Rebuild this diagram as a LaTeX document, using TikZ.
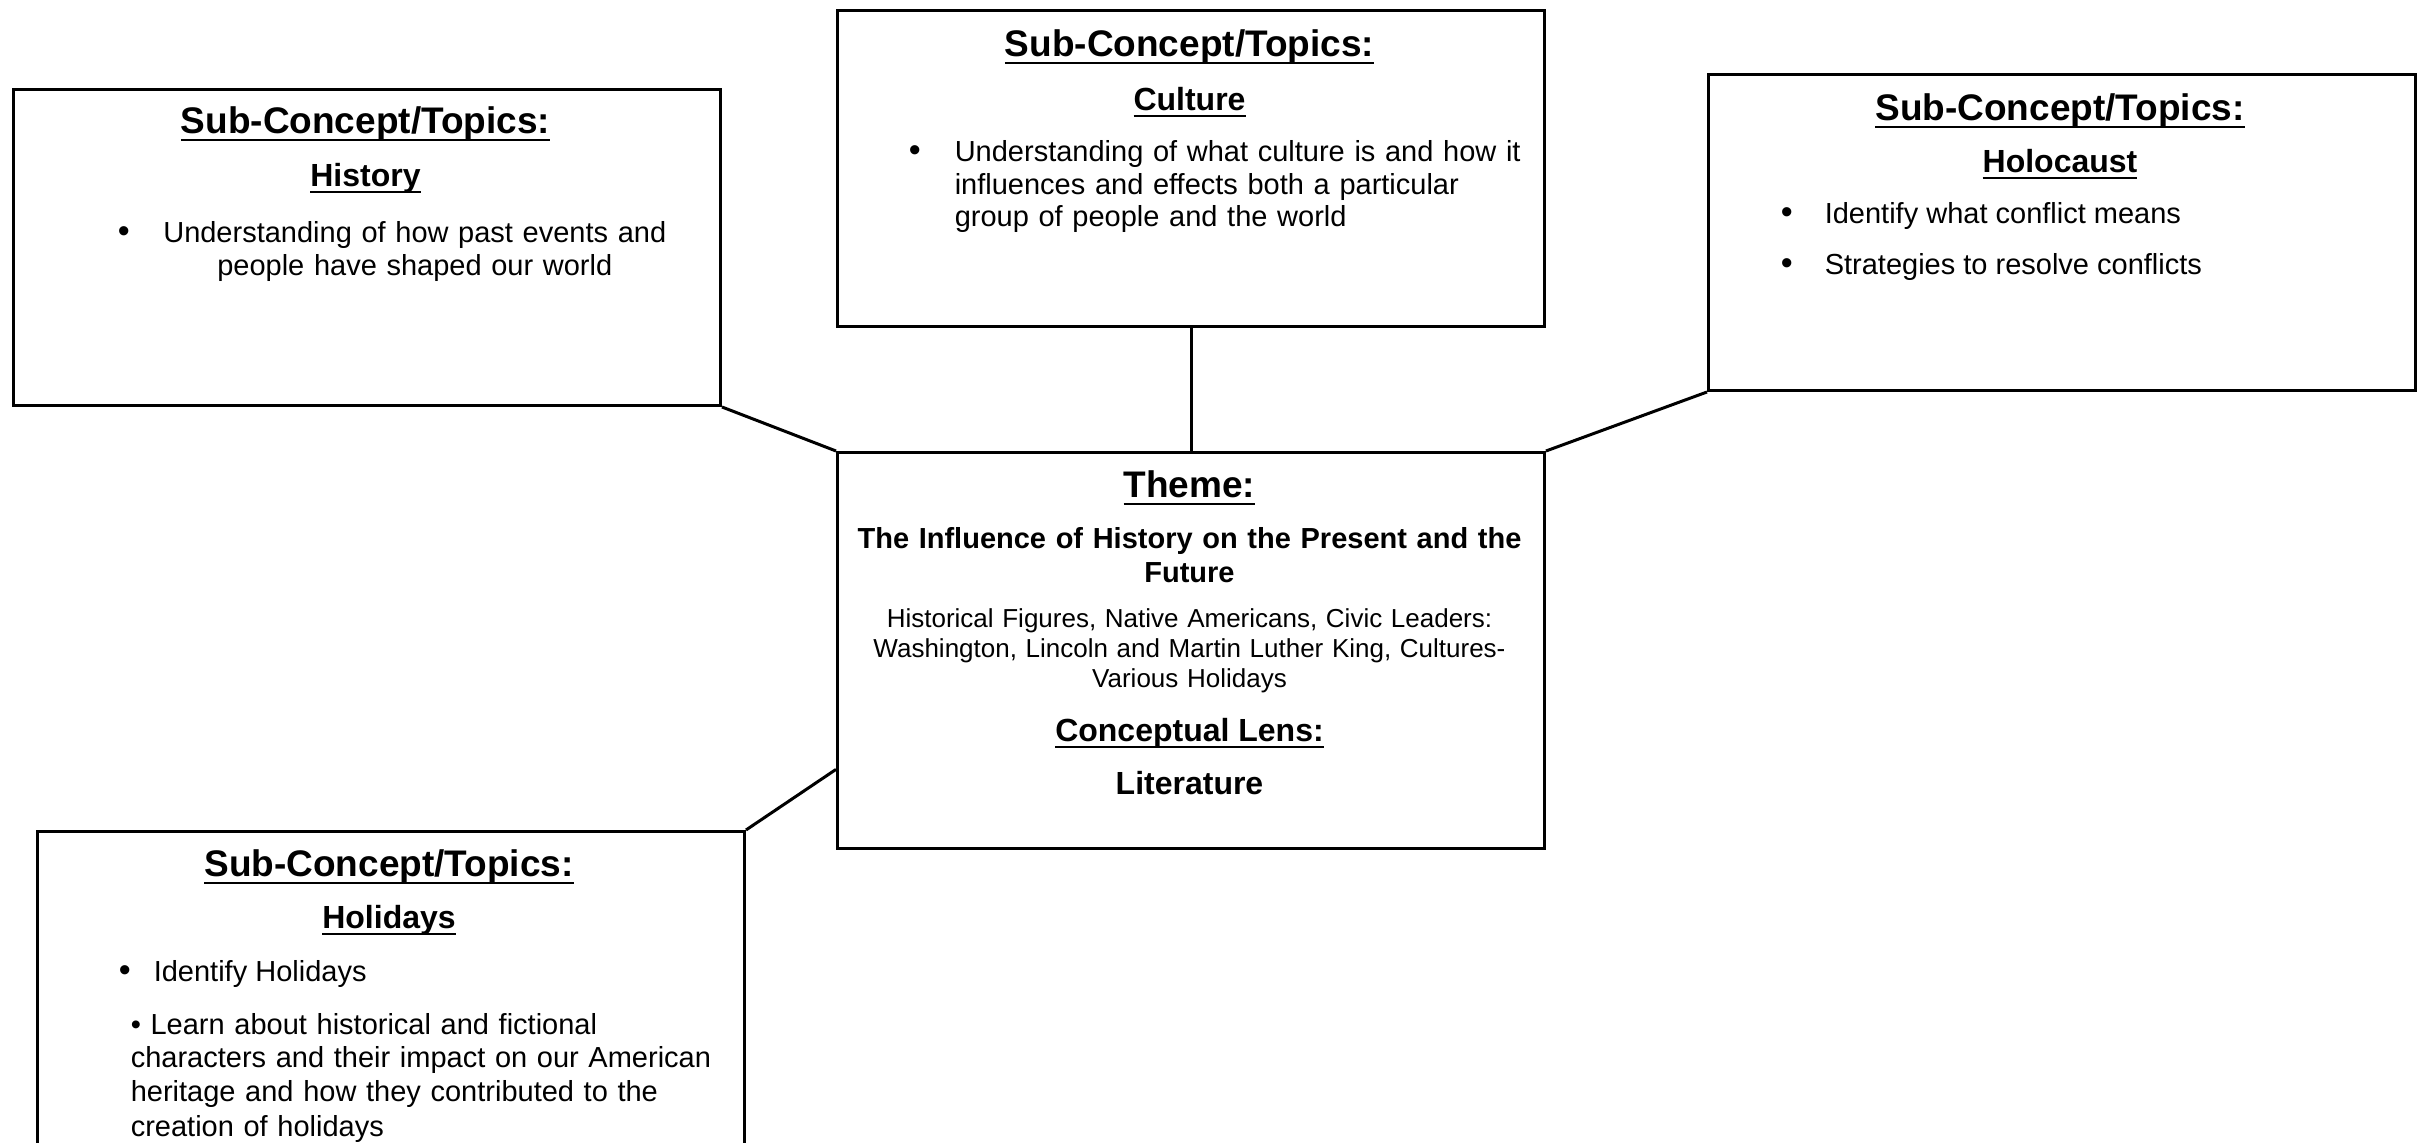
\documentclass[tikz,border=0pt]{standalone}
\usepackage{fontspec}
\setmainfont{Liberation Sans}
\usetikzlibrary{calc}
% underline at a fixed depth below the baseline
\newcommand{\ulx}[1]{\setbox0\hbox{#1}\rlap{\rule[-0.2em]{\wd0}{0.075em}}\box0}
\begin{document}
\begin{tikzpicture}[x=0.25pt, y=-0.25pt,
  box/.style={draw, line width=0.75pt, inner sep=0pt, anchor=north west,
              minimum width=176.75pt, minimum height=79pt},
  head/.style={anchor=base, inner sep=0pt, font=\fontsize{9.25}{11}\selectfont\bfseries},
  subhead/.style={anchor=base, inner sep=0pt, font=\fontsize{8}{9.5}\selectfont\bfseries},
  body/.style={anchor=base west, inner sep=0pt, font=\fontsize{7.25}{8.125}\selectfont},
  dot/.style={anchor=base west, inner sep=0pt, font=\fontsize{8.5}{8.125}\selectfont},
  link/.style={line width=0.75pt}]
\useasboundingbox (0,0) rectangle (2424,1143);
\fill[white] (0,0) rectangle (2424,1143);

% the five boxes
\node[box] (hist) at (12,88) {};
\node[box] (cult) at (836,9) {};
\node[box] (holo) at (1707,73) {};
\node[box, minimum height=99pt] (theme) at (836,451) {};
\node[box, minimum height=92.5pt] (holi) at (36,830) {};

% connectors
\coordinate (themeL) at ($(theme.north west)!0.798!(theme.south west)$);
\draw[link] (hist.south east) -- (theme.north west);
\draw[link] (cult.south) -- (theme.north);
\draw[link] (holo.south west) -- (theme.north east);
\draw[link] (holi.north east) -- (themeL);

% History
\node[head] (histT) at (365.5,134) {\ulx{Sub-Concept/Topics:}};
\node[subhead] (histS) at (365.5,187) {\ulx{History}};
\node[dot] (histB) at (117,243) {\textbullet};
\node[body, text width=132pt, align=center] (histX) at (150,243)
  {Understanding of how past events and\\people have shaped our world};

% Culture
\node[head] (cultT) at (1189.5,57) {\ulx{Sub-Concept/Topics:}};
\node[subhead] (cultS) at (1189.5,111) {\ulx{Culture}};
\node[dot] (cultB) at (908,162) {\textbullet};
\node[body, text width=145pt, align=left] (cultX) at (954,162)
  {Understanding of what culture is and how it\\influences and effects both a particular\\group of people and the world};

% Holocaust
\node[head] (holoT) at (2060,121) {\ulx{Sub-Concept/Topics:}};
\node[subhead] (holoS) at (2060,173) {\ulx{Holocaust}};
\node[dot] (holoB1) at (1780,224) {\textbullet};
\node[body] (holoX1) at (1824,224) {Identify what conflict means};
\node[dot] (holoB2) at (1780,275) {\textbullet};
\node[body] (holoX2) at (1824,275) {Strategies to resolve conflicts};

% Theme
\node[head] (themeT) at (1189.5,498) {\ulx{Theme:}};
\node[anchor=base, inner sep=0pt, text width=170pt, align=center,
      font=\fontsize{7.25}{8.5}\selectfont\bfseries] (themeN) at (1189.5,549)
  {The Influence of History on the Present and the\\Future};
\node[anchor=base, inner sep=0pt, text width=170pt, align=center,
      font=\fontsize{6.5}{7.5}\selectfont] (themeD) at (1189.5,628)
  {Historical Figures, Native Americans, Civic Leaders:\\Washington, Lincoln and Martin Luther King, Cultures-\\Various Holidays};
\node[subhead] (lensT) at (1189.5,742) {\ulx{Conceptual Lens:}};
\node[subhead] (lensX) at (1189.5,795) {Literature};

% Holidays
\node[head] (holiT) at (389,877) {\ulx{Sub-Concept/Topics:}};
\node[subhead] (holiS) at (389,929) {\ulx{Holidays}};
\node[dot] (holiB) at (118,982) {\textbullet};
\node[body] (holiX1) at (153,982) {Identify Holidays};
\node[body, text width=150pt, align=left, font=\fontsize{7.25}{8.5}\selectfont] (holiX2) at (130,1034)
  {\textbullet{} Learn about historical and fictional\\characters and their impact on our American\\heritage and how they contributed to the\\creation of holidays};
\end{tikzpicture}
\end{document}
